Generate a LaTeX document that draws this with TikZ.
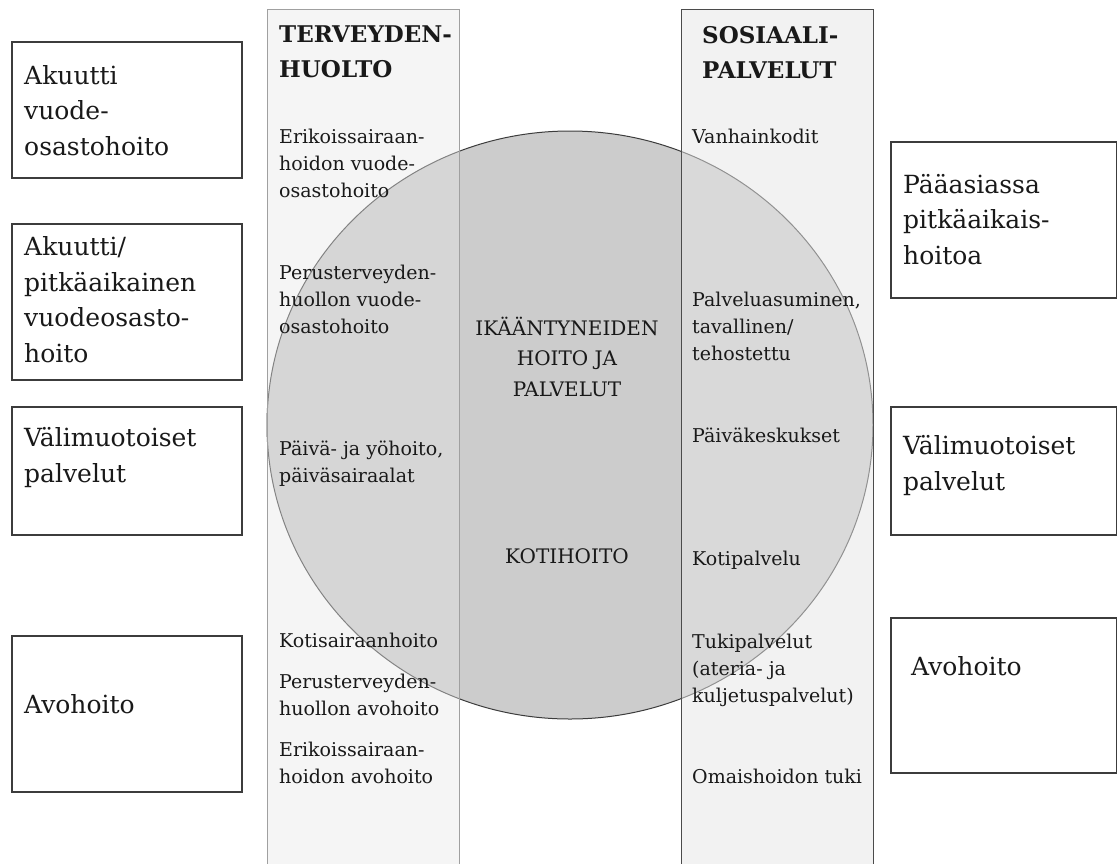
\documentclass[tikz,border=0pt]{standalone}
\usepackage{fontspec}
\setmainfont{DejaVu Serif}
\usetikzlibrary{shapes.geometric, positioning}
\definecolor{edgegray}{RGB}{60, 60, 60}
\definecolor{circlegray}{RGB}{204, 204, 204}
\definecolor{leftedge}{RGB}{160, 160, 160}
\definecolor{rightedge}{RGB}{75, 75, 75}
\definecolor{colshade}{RGB}{230, 230, 230}
\definecolor{inkgray}{RGB}{25, 25, 25}
\tikzset{
    levelbox/.style={
        rectangle, draw=edgegray, line width=1.1pt, fill=white,
        minimum width=230pt, inner sep=0pt
    },
    columnbox/.style={
        rectangle, draw=leftedge, line width=0.9pt, fill=colshade, fill opacity=0.42,
        minimum width=192pt, minimum height=870pt, inner sep=0pt
    },
    % multi-line texts: the coordinate is the baseline of the last line
    boxtext/.style={anchor=base west, inner sep=0pt, align=left, text=inkgray,
        font=\fontsize{25}{35.5}\selectfont},
    coltext/.style={anchor=base west, inner sep=0pt, align=left, text=inkgray,
        font=\fontsize{19}{27}\selectfont},
    headtext/.style={anchor=base west, inner sep=0pt, align=left, text=inkgray,
        font=\fontsize{23}{35}\selectfont\bfseries},
    midtext/.style={anchor=base, inner sep=0pt, align=center, text=inkgray,
        font=\fontsize{20}{30.5}\selectfont},
}

\begin{document}
\begin{tikzpicture}[x=1pt, y=-1pt]
    \useasboundingbox (0,0) rectangle (1117,863);

    % levels of care, left and right
    \node[levelbox, minimum height=136pt] (acute) at (127, 110) {};
    \node[levelbox, minimum height=156pt] (longacute) at (127, 302) {};
    \node[levelbox, minimum height=128pt] (midleft) at (127, 471) {};
    \node[levelbox, minimum height=156pt] (openleft) at (127, 714) {};
    \node[levelbox, minimum width=226pt, minimum height=156pt] (longterm) at (1004, 220) {};
    \node[levelbox, minimum width=226pt, minimum height=128pt] (midright) at (1004, 471) {};
    \node[levelbox, minimum width=226pt, minimum height=155pt] (openright) at (1004, 695.5) {};

    % care of the elderly
    \node[ellipse, draw=edgegray, line width=1pt, fill=circlegray,
          minimum width=606pt, minimum height=588pt, inner sep=0pt] (eldercare) at (570, 425) {};

    % the two sectors
    \node[columnbox] (health) at (363, 444) {};
    \node[columnbox, draw=rightedge, fill opacity=0.5] (social) at (777, 444) {};

    \node[boxtext] (acutetxt) at (24, 155) {Akuutti\\vuode-\\osastohoito};
    \node[boxtext] (longacutetxt) at (24, 362) {Akuutti/\\pitkäaikainen\\vuodeosasto-\\hoito};
    \node[boxtext] (midlefttxt) at (24, 482) {Välimuotoiset\\palvelut};
    \node[boxtext] (openlefttxt) at (24, 713) {Avohoito};
    \node[boxtext] (longtermtxt) at (903, 264) {Pääasiassa\\pitkäaikais-\\hoitoa};
    \node[boxtext] (midrighttxt) at (903, 490) {Välimuotoiset\\palvelut};
    \node[boxtext] (openrighttxt) at (911, 675) {Avohoito};

    \node[headtext] (healthhead) at (279, 77) {TERVEYDEN-\\HUOLTO};
    \node[coltext] (h1) at (279, 197) {Erikoissairaan-\\hoidon vuode-\\osastohoito};
    \node[coltext] (h2) at (279, 333) {Perusterveyden-\\huollon vuode-\\osastohoito};
    \node[coltext] (h3) at (279, 482) {Päivä- ja yöhoito,\\päiväsairaalat};
    \node[coltext] (h4) at (279, 647) {Kotisairaanhoito};
    \node[coltext] (h5) at (279, 715) {Perusterveyden-\\huollon avohoito};
    \node[coltext] (h6) at (279, 783) {Erikoissairaan-\\hoidon avohoito};

    \node[headtext] (socialhead) at (702, 78) {SOSIAALI-\\PALVELUT};
    \node[coltext] (s1) at (692, 143) {Vanhainkodit};
    \node[coltext] (s2) at (692, 360) {Palveluasuminen,\\tavallinen/\\tehostettu};
    \node[coltext] (s3) at (692, 442) {Päiväkeskukset};
    \node[coltext] (s4) at (692, 565) {Kotipalvelu};
    \node[coltext] (s5) at (692, 702) {Tukipalvelut\\(ateria- ja\\kuljetuspalvelut)};
    \node[coltext] (s6) at (692, 783) {Omaishoidon tuki};

    \node[midtext] (eldertxt) at (567, 396) {IKÄÄNTYNEIDEN\\HOITO JA\\PALVELUT};
    \node[midtext] (hometxt) at (567, 563) {KOTIHOITO};
\end{tikzpicture}
\end{document}
